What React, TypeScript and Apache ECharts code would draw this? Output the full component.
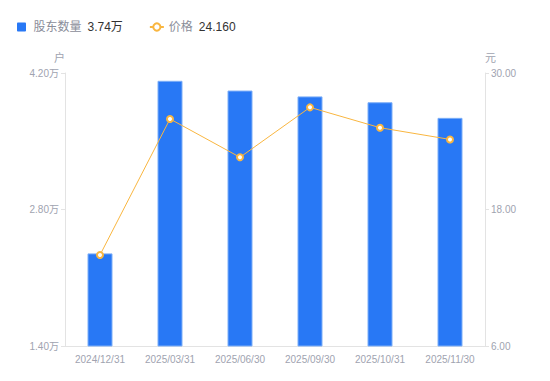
import React, { useEffect, useRef } from "react";
import * as echarts from "echarts";

const categories = ["2024/12/31", "2025/03/31", "2025/06/30", "2025/09/30", "2025/10/31", "2025/11/30"];
const holders = [2.35, 4.12, 4.02, 3.96, 3.9, 3.74]; // 万户
const prices = [14.0, 25.96, 22.59, 26.98, 25.19, 24.16]; // 元
const leftTicks = { min: 1.4, max: 4.2, interval: 1.4 };
const rightTicks = { min: 6, max: 30, interval: 12 };

const BAR = "#2878F5";
const LINE = "#F9B640";
const GRAY = "#A0A3B0";
const FONT = "Liberation Sans, Arial, Noto Sans CJK SC, sans-serif";

export default function App() {
  const ref = useRef<HTMLDivElement>(null);
  useEffect(() => {
    const chart = echarts.init(ref.current!, undefined, { renderer: "svg" });
    const lastH = holders[holders.length - 1];
    const lastP = prices[prices.length - 1];
    chart.setOption({
      animation: false,
      textStyle: { fontFamily: FONT },
      legend: {
        left: 12,
        top: 16,
        itemWidth: 14,
        itemHeight: 9,
        itemGap: 26,
        data: [
          { name: "股东数量", icon: "path://M1 0H9Q10 0 10 1V9Q10 10 9 10H1Q0 10 0 9V1Q0 0 1 0Z", itemStyle: { borderWidth: 0 } },
          { name: "价格" },
        ],
        formatter: (name: string) =>
          name === "股东数量"
            ? `{n|${name}}{v|${lastH.toFixed(2)}万}`
            : `{n|${name}}{v|${lastP.toFixed(3)}}`,
        textStyle: {
          fontFamily: FONT,
          rich: {
            n: { color: "#8A8D99", fontSize: 12, fontFamily: FONT, padding: [0, 6, 0, 0] },
            v: { color: "#333", fontSize: 12, fontFamily: FONT },
          },
        },
      },
      grid: { left: 65, right: 65, top: 73, bottom: 35 },
      xAxis: {
        type: "category",
        data: categories,
        axisLine: { lineStyle: { color: "#E3E3E3" } },
        axisTick: { show: false },
        axisLabel: { color: GRAY, fontSize: 10, margin: 8 },
      },
      yAxis: [
        {
          type: "value",
          name: "户",
          nameTextStyle: { color: GRAY, fontSize: 11, align: "right" },
          nameGap: 10,
          ...leftTicks,
          axisLine: { show: true, lineStyle: { color: "#E3E3E3" } },
          axisTick: { show: true, length: 4, lineStyle: { color: "#E3E3E3" } },
          splitLine: { show: false },
          axisLabel: { color: GRAY, fontSize: 10, margin: 6, formatter: (v: number) => v.toFixed(2) + "万" },
        },
        {
          type: "value",
          name: "元",
          nameTextStyle: { color: GRAY, fontSize: 11, align: "left" },
          nameGap: 10,
          ...rightTicks,
          axisLine: { show: true, lineStyle: { color: "#E3E3E3" } },
          axisTick: { show: true, length: 4, lineStyle: { color: "#E3E3E3" } },
          splitLine: { show: false },
          axisLabel: { color: GRAY, fontSize: 10, margin: 6, formatter: (v: number) => v.toFixed(2) },
        },
      ],
      series: [
        {
          name: "股东数量",
          type: "bar",
          data: holders,
          barWidth: 25,
          itemStyle: { color: BAR, borderColor: "#7DAEF7", borderWidth: 1 },
        },
        {
          name: "价格",
          type: "line",
          yAxisIndex: 1,
          data: prices,
          symbol: "circle",
          symbolSize: 6,
          itemStyle: { color: "#fff", borderColor: LINE, borderWidth: 2 },
          lineStyle: { color: LINE, width: 1 },
        },
      ],
    });
    return () => chart.dispose();
  }, []);
  return <div ref={ref} style={{ width: 550, height: 381, margin: -8 }} />;
}
